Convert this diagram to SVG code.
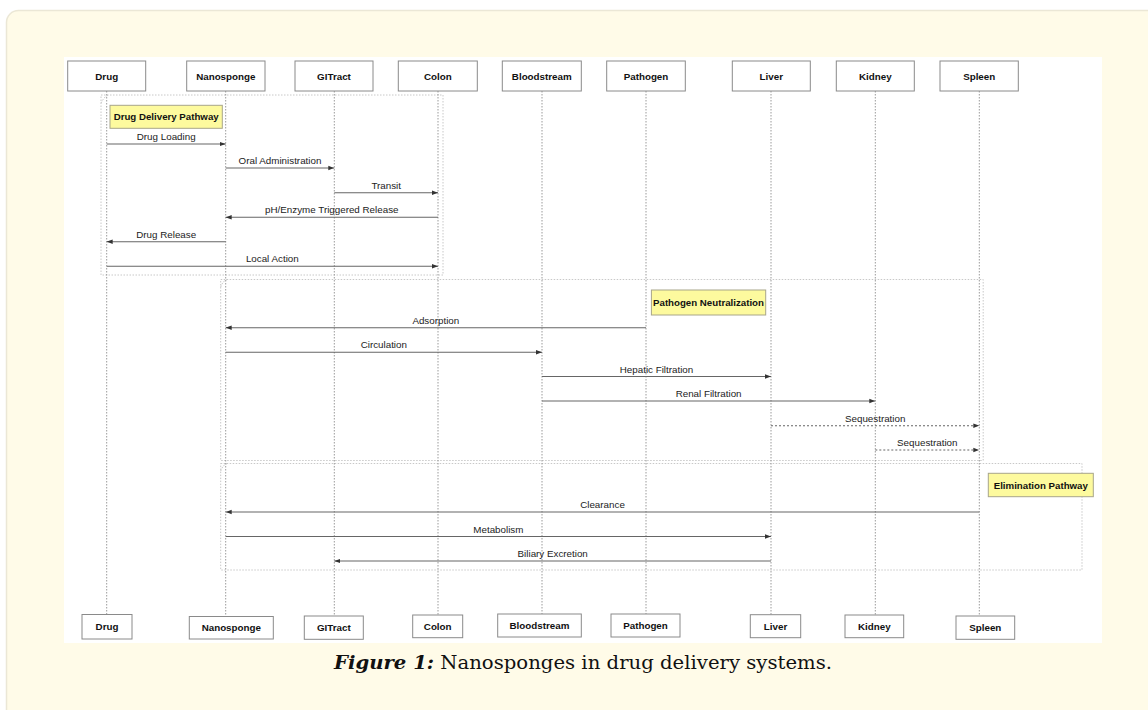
<svg xmlns="http://www.w3.org/2000/svg" width="1148" height="710" viewBox="0 0 1148 710">
<style>
.card{fill:#fffbe8;stroke:#ebe7d6;stroke-width:1.5}
.hd rect{fill:#fff;stroke:#8a8a8a;stroke-width:1}
.hd text{font-family:"Liberation Sans",Arial,sans-serif;font-weight:bold;font-size:9.8px;fill:#111;text-anchor:middle}
.life{stroke:#9a9a9a;stroke-width:1;stroke-dasharray:1.5,1.5;fill:none}
.grp{fill:none;stroke:#c8c8c8;stroke-width:1;stroke-dasharray:1.5,1.5}
.msg{stroke:#666;stroke-width:1.1;fill:none}
.dash{stroke:#666;stroke-width:1.1;fill:none;stroke-dasharray:2,2}
.lbl{font-family:"Liberation Sans",Arial,sans-serif;font-size:9.8px;fill:#222;text-anchor:middle}
.note rect{fill:#fdfa9e;stroke:#a8a68a;stroke-width:1}
.note text{font-family:"Liberation Sans",Arial,sans-serif;font-weight:bold;font-size:9.7px;fill:#111;text-anchor:middle}
.cap{font-family:"DejaVu Serif","Liberation Serif",serif;font-size:19px;fill:#111}
</style>
<defs>
<marker id="ah" viewBox="0 0 6 6" refX="6" refY="3" markerWidth="6" markerHeight="6" markerUnits="userSpaceOnUse" orient="auto">
<path d="M0,0.8 L6,3 L0,5.2 Z" fill="#333"/>
</marker>
</defs>
<rect width="1148" height="710" fill="#fff"/>
<rect class="card" x="6.5" y="10.5" width="1160" height="730" rx="12"/>
<rect x="64" y="57" width="1038" height="586" fill="#fff"/>

<g id="groups">
<rect class="grp" x="101" y="95" width="342" height="180"/>
<path class="grp" d="M101,103 L104,98 L108,95"/>
<rect class="grp" x="220.7" y="279.5" width="762.5" height="181"/>
<path class="grp" d="M220.7,287 L223,282 L227,279.5"/>
<rect class="grp" x="220.7" y="463.5" width="861.3" height="106.5"/>
<path class="grp" d="M220.7,471 L223,466 L227,463.5"/>
</g>

<g id="lifelines">
<line class="life" x1="106.7" y1="91" x2="106.7" y2="614"/>
<line class="life" x1="225.7" y1="91" x2="225.7" y2="616"/>
<line class="life" x1="334.3" y1="91" x2="334.3" y2="616"/>
<line class="life" x1="438" y1="91" x2="438" y2="615"/>
<line class="life" x1="542" y1="91" x2="542" y2="614"/>
<line class="life" x1="646" y1="91" x2="646" y2="614"/>
<line class="life" x1="771" y1="91" x2="771" y2="614.5"/>
<line class="life" x1="875.3" y1="91" x2="875.3" y2="615"/>
<line class="life" x1="979.3" y1="91" x2="979.3" y2="616"/>
</g>

<g id="Drug" class="hd">
<rect x="67.7" y="61" width="78" height="30"/><text x="106.7" y="79.5">Drug</text>
<rect x="82" y="614.5" width="50" height="24.5"/><text x="107" y="630.3">Drug</text>
</g>
<g id="Nanosponge" class="hd">
<rect x="186.7" y="61" width="78.3" height="30"/><text x="225.8" y="79.5">Nanosponge</text>
<rect x="189.3" y="616.5" width="84" height="22.5"/><text x="231.3" y="631.2">Nanosponge</text>
</g>
<g id="GITract" class="hd">
<rect x="295" y="61" width="78" height="30"/><text x="334" y="79.5">GITract</text>
<rect x="304.3" y="616" width="59" height="23.3"/><text x="333.8" y="631.2">GITract</text>
</g>
<g id="Colon" class="hd">
<rect x="398.3" y="61" width="79" height="30"/><text x="437.8" y="79.5">Colon</text>
<rect x="412.7" y="615" width="50" height="22.7"/><text x="437.7" y="629.9">Colon</text>
</g>
<g id="Bloodstream" class="hd">
<rect x="502.3" y="61" width="79" height="30"/><text x="541.8" y="79.5">Bloodstream</text>
<rect x="497.7" y="614" width="83.6" height="23"/><text x="539.5" y="629">Bloodstream</text>
</g>
<g id="Pathogen" class="hd">
<rect x="606.7" y="61" width="78.6" height="30"/><text x="646" y="79.5">Pathogen</text>
<rect x="611" y="614" width="69" height="23"/><text x="645.5" y="629">Pathogen</text>
</g>
<g id="Liver" class="hd">
<rect x="732.3" y="61" width="78" height="30"/><text x="771.3" y="79.5">Liver</text>
<rect x="750.3" y="614.7" width="50.4" height="23"/><text x="775.5" y="629.7">Liver</text>
</g>
<g id="Kidney" class="hd">
<rect x="836.3" y="61" width="78" height="30"/><text x="875.3" y="79.5">Kidney</text>
<rect x="845" y="615" width="58.7" height="22.7"/><text x="874.3" y="629.8">Kidney</text>
</g>
<g id="Spleen" class="hd">
<rect x="940" y="61" width="78.3" height="30"/><text x="979.2" y="79.5">Spleen</text>
<rect x="956" y="616" width="58.7" height="23.3"/><text x="985.3" y="631.3">Spleen</text>
</g>

<g id="note-drug-delivery" class="note">
<rect x="110" y="105.3" width="112.3" height="23"/><text x="166.2" y="120.3">Drug Delivery Pathway</text>
</g>
<g id="note-pathogen" class="note">
<rect x="651.4" y="290" width="114.3" height="25"/><text x="708.5" y="305.8">Pathogen Neutralization</text>
</g>
<g id="note-elimination" class="note">
<rect x="988.3" y="473.3" width="105" height="23.4"/><text x="1040.8" y="488.5">Elimination Pathway</text>
</g>

<g id="connectors">
<line class="msg" x1="106.7" y1="144" x2="225.7" y2="144" marker-end="url(#ah)"/>
<text class="lbl" x="166.2" y="140">Drug Loading</text>
<line class="msg" x1="225.7" y1="168" x2="334.3" y2="168" marker-end="url(#ah)"/>
<text class="lbl" x="280" y="164">Oral Administration</text>
<line class="msg" x1="334.3" y1="192.7" x2="438" y2="192.7" marker-end="url(#ah)"/>
<text class="lbl" x="386.2" y="188.7">Transit</text>
<line class="msg" x1="438" y1="217.3" x2="225.7" y2="217.3" marker-end="url(#ah)"/>
<text class="lbl" x="331.8" y="213.3">pH/Enzyme Triggered Release</text>
<line class="msg" x1="225.7" y1="241.7" x2="106.7" y2="241.7" marker-end="url(#ah)"/>
<text class="lbl" x="166.2" y="237.7">Drug Release</text>
<line class="msg" x1="106.7" y1="266.3" x2="438" y2="266.3" marker-end="url(#ah)"/>
<text class="lbl" x="272.3" y="262.3">Local Action</text>
<line class="msg" x1="646" y1="327.7" x2="225.7" y2="327.7" marker-end="url(#ah)"/>
<text class="lbl" x="435.8" y="323.7">Adsorption</text>
<line class="msg" x1="225.7" y1="352.3" x2="542" y2="352.3" marker-end="url(#ah)"/>
<text class="lbl" x="383.8" y="348.3">Circulation</text>
<line class="msg" x1="542" y1="376.5" x2="771" y2="376.5" marker-end="url(#ah)"/>
<text class="lbl" x="656.5" y="372.5">Hepatic Filtration</text>
<line class="msg" x1="542" y1="401" x2="875.3" y2="401" marker-end="url(#ah)"/>
<text class="lbl" x="708.6" y="397">Renal Filtration</text>
<line class="dash" x1="771" y1="425.7" x2="979.3" y2="425.7" marker-end="url(#ah)"/>
<text class="lbl" x="875.2" y="421.7">Sequestration</text>
<line class="dash" x1="875.3" y1="450" x2="979.3" y2="450" marker-end="url(#ah)"/>
<text class="lbl" x="927.3" y="446">Sequestration</text>
<line class="msg" x1="979.3" y1="512" x2="225.7" y2="512" marker-end="url(#ah)"/>
<text class="lbl" x="602.5" y="508">Clearance</text>
<line class="msg" x1="225.7" y1="536.5" x2="771" y2="536.5" marker-end="url(#ah)"/>
<text class="lbl" x="498.4" y="532.5">Metabolism</text>
<line class="msg" x1="771" y1="561" x2="334.3" y2="561" marker-end="url(#ah)"/>
<text class="lbl" x="552.7" y="557">Biliary Excretion</text>
</g>

<text class="cap" x="334" y="669" textLength="498" lengthAdjust="spacingAndGlyphs"><tspan font-weight="bold" font-style="italic">Figure 1:</tspan> Nanosponges in drug delivery systems.</text>
</svg>
